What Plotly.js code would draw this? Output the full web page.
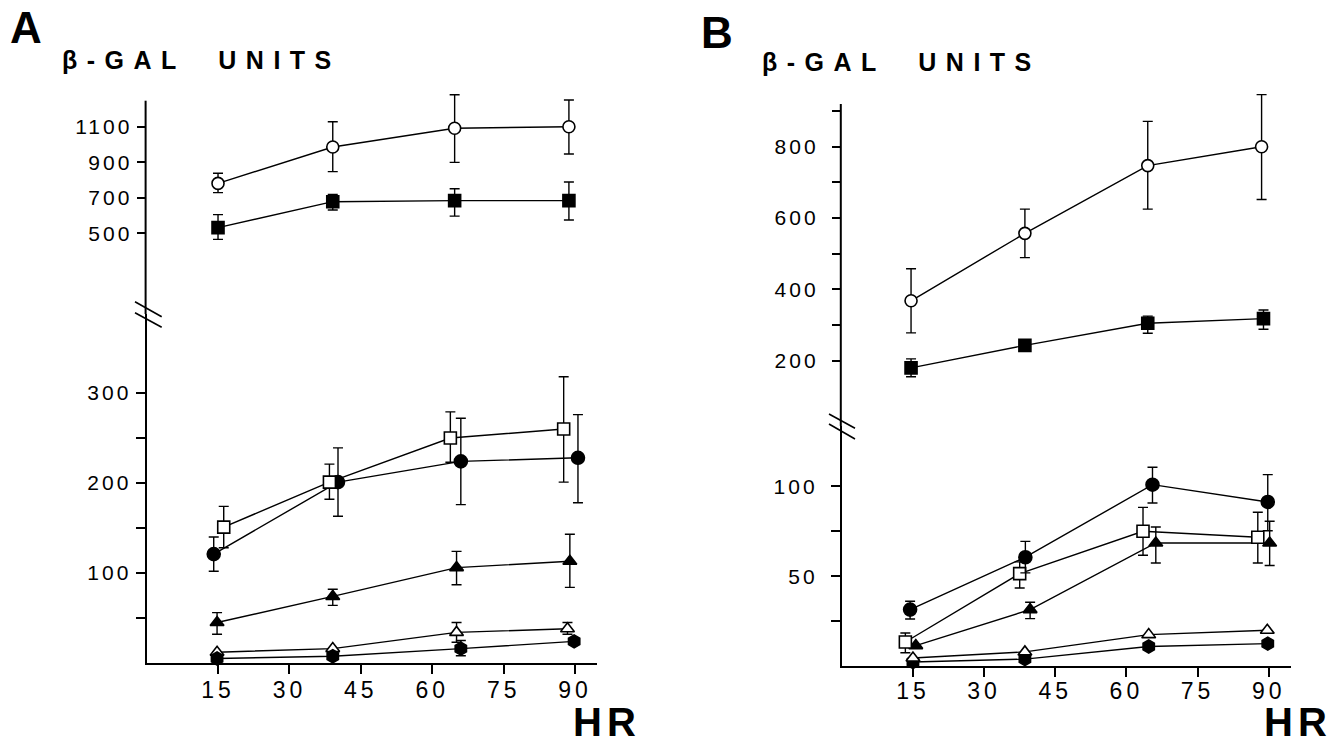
<!DOCTYPE html>
<html>
<head>
<meta charset="utf-8">
<script src="https://cdn.plot.ly/plotly-3.0.1.min.js"></script>
<style>
  html, body { margin: 0; padding: 0; background: #fff; }
  #chart { width: 1336px; height: 746px; }
  .annotation-text[data-unformatted*="UNITS"] { letter-spacing: 9.5px; }
  .annotation-text[data-unformatted*="HR"] { letter-spacing: 5px; }
  g.ytick text, g.y2tick text, g.y3tick text, g.y4tick text { letter-spacing: 3px; }
  g.xtick text, g.x2tick text { letter-spacing: 4px; }
</style>
</head>
<body>
<div id="chart"></div>
<script>
// ---------------- Panel A (hours, beta-gal units) ----------------
// upper part of broken axis
const aOpenCircleX = [15, 39.1, 64.7, 88.7];
const aOpenCircleY = [781, 986, 1091, 1100];
const aOpenCircleErrPlus = [57, 142, 189, 150];
const aOpenCircleErrMinus = [52, 139, 192, 154];

const aFilledSquareX = [15, 39.1, 64.7, 88.7];
const aFilledSquareY = [532, 678, 684, 684];
const aFilledSquareErrPlus = [73, 41, 67, 105];
const aFilledSquareErrMinus = [66, 47, 87, 109];

// lower part of broken axis
const aOpenSquareX = [16.2, 38.4, 63.8, 87.6];
const aOpenSquareY = [151, 201, 250, 260];
const aOpenSquareErrPlus = [23, 20, 29, 58];
const aOpenSquareErrMinus = [23, 19, 27, 59];

const aFilledCircleX = [14.1, 40.2, 66, 90.6];
const aFilledCircleY = [121, 201, 224, 228];
const aFilledCircleErrPlus = [19, 38, 48, 48];
const aFilledCircleErrMinus = [19, 38, 48, 50];

const aFilledTriX = [14.8, 39.1, 65.1, 88.9];
const aFilledTriY = [45, 74, 106, 113];
const aFilledTriErrPlus = [11, 8, 18, 30];
const aFilledTriErrMinus = [13, 10, 19, 29];

const aOpenTriX = [14.8, 39.1, 65.1, 88.4];
const aOpenTriY = [12, 16, 34, 38];
const aOpenTriErrPlus = [0, 0, 11, 7];
const aOpenTriErrMinus = [0, 0, 11, 6];

const aFilledHexX = [14.8, 39.1, 66, 89.8];
const aFilledHexY = [5, 7.5, 16, 24];
const aFilledHexErrPlus = [0, 0, 9, 0];
const aFilledHexErrMinus = [0, 0, 8, 0];

// ---------------- Panel B ----------------
const bOpenCircleX = [14.6, 38.6, 64.5, 88.5];
const bOpenCircleY = [368, 557, 747, 800];
const bOpenCircleErrPlus = [90, 68, 124, 146];
const bOpenCircleErrMinus = [90, 68, 122, 148];

const bFilledSquareX = [14.6, 38.6, 64.5, 88.9];
const bFilledSquareY = [180, 243, 305, 318];
const bFilledSquareErrPlus = [25, 0, 20, 24];
const bFilledSquareErrMinus = [25, 0, 28, 30];

const bFilledCircleX = [14.4, 38.7, 65.5, 89.8];
const bFilledCircleY = [31.5, 60.6, 100.9, 91.3];
const bFilledCircleErrPlus = [4.6, 8.8, 9.7, 15.2];
const bFilledCircleErrMinus = [5.2, 8.7, 10.2, 16];

const bOpenSquareX = [13.4, 37.5, 63.5, 87.7];
const bOpenSquareY = [13.5, 51.5, 75, 71.7];
const bOpenSquareErrPlus = [5, 6.5, 13.3, 13.9];
const bOpenSquareErrMinus = [6, 8, 13.3, 14.3];

const bFilledTriX = [15.6, 39.7, 66.2, 90.2];
const bFilledTriY = [11.5, 31.5, 68.5, 68.5];
const bFilledTriErrPlus = [0, 4.1, 8.9, 12.1];
const bFilledTriErrMinus = [0, 5, 11.1, 12.5];

const bOpenTriX = [15, 38.6, 64.7, 89.7];
const bOpenTriY = [4.6, 8, 17.6, 20];

const bFilledHexX = [15, 38.6, 64.7, 89.8];
const bFilledHexY = [2.4, 4, 11, 12.6];

// ---------------- tick labels ----------------
const xTickVals = [15, 30, 45, 60, 75, 90];
const xTickText = ['15', '30', '45', '60', '75', '90'];
const aUpperTickVals = [500, 700, 900, 1100];
const aUpperTickText = ['500', '700', '900', '1100'];
const aLowerTickVals = [50, 100, 150, 200, 250, 300];
const aLowerTickText = ['', '100', '', '200', '', '300'];
const bUpperTickVals = [200, 300, 400, 500, 600, 700, 800, 900];
const bUpperTickText = ['200', '', '400', '', '600', '', '800', ''];
const bLowerTickVals = [25, 50, 75, 100];
const bLowerTickText = ['', '50', '', '100'];

// ---------------- helpers ----------------
const W = 1336, H = 746;
const px = v => v / W;
const py = v => 1 - v / H;

function series(x, y, xa, ya, symbol, filled, size, errPlus, errMinus) {
  const t = {
    type: 'scatter', mode: 'lines+markers', x: x, y: y,
    xaxis: xa, yaxis: ya, showlegend: false, cliponaxis: false,
    line: { color: '#000', width: 1.4 },
    marker: { symbol: symbol, size: size, color: filled ? '#000' : '#fff',
              line: { color: '#000', width: 1.6 } }
  };
  if (errPlus) {
    t.error_y = { type: 'data', symmetric: false, array: errPlus, arrayminus: errMinus,
                  color: '#000', thickness: 1.4, width: 5 };
  }
  return t;
}

const data = [
  series(aOpenCircleX, aOpenCircleY, 'x', 'y2', 'circle', false, 12, aOpenCircleErrPlus, aOpenCircleErrMinus),
  series(aFilledSquareX, aFilledSquareY, 'x', 'y2', 'square', true, 12, aFilledSquareErrPlus, aFilledSquareErrMinus),
  series(aFilledTriX, aFilledTriY, 'x', 'y', 'triangle-up', true, 12, aFilledTriErrPlus, aFilledTriErrMinus),
  series(aOpenTriX, aOpenTriY, 'x', 'y', 'triangle-up', false, 12, aOpenTriErrPlus, aOpenTriErrMinus),
  series(aFilledHexX, aFilledHexY, 'x', 'y', 'hexagon', true, 13, aFilledHexErrPlus, aFilledHexErrMinus),
  series(aFilledCircleX, aFilledCircleY, 'x', 'y', 'circle', true, 13, aFilledCircleErrPlus, aFilledCircleErrMinus),
  series(aOpenSquareX, aOpenSquareY, 'x', 'y', 'square', false, 12, aOpenSquareErrPlus, aOpenSquareErrMinus),

  series(bOpenCircleX, bOpenCircleY, 'x2', 'y4', 'circle', false, 12, bOpenCircleErrPlus, bOpenCircleErrMinus),
  series(bFilledSquareX, bFilledSquareY, 'x2', 'y4', 'square', true, 12, bFilledSquareErrPlus, bFilledSquareErrMinus),
  series(bFilledHexX, bFilledHexY, 'x2', 'y3', 'hexagon', true, 13, null, null),
  series(bOpenTriX, bOpenTriY, 'x2', 'y3', 'triangle-up', false, 12, null, null),
  series(bFilledTriX, bFilledTriY, 'x2', 'y3', 'triangle-up', true, 12, bFilledTriErrPlus, bFilledTriErrMinus),
  series(bOpenSquareX, bOpenSquareY, 'x2', 'y3', 'square', false, 12, bOpenSquareErrPlus, bOpenSquareErrMinus),
  series(bFilledCircleX, bFilledCircleY, 'x2', 'y3', 'circle', true, 13, bFilledCircleErrPlus, bFilledCircleErrMinus)
];

const FONT = 'Liberation Sans, Arial, sans-serif';
const tickFont = { family: FONT, size: 21, color: '#000' };
const axisCommon = {
  showgrid: false, zeroline: false, showline: true, linecolor: '#000', linewidth: 2,
  ticks: 'outside', ticklen: 9, tickwidth: 2, tickcolor: '#000',
  tickfont: tickFont, fixedrange: true, tickmode: 'array'
};

// pixel geometry of the two panels
const aLeft = 146.6, aRight = 597, aBottom = 663, aBreak = 314, aTop = 100.7;
const bLeft = 841.8, bRight = 1291, bBottom = 666.3, bBreak = 426, bTop = 104;
const upperExtraTop = 88; // room above the axis line for long error bars

const axisLine = (x, y0, y1) => ({ type: 'line', xref: 'paper', yref: 'paper', layer: 'above',
  x0: px(x - 1), x1: px(x - 1), y0: py(y0), y1: py(y1), line: { color: '#000', width: 2 } });
const breakLine = (x0, y0, x1, y1) => ({ type: 'line', xref: 'paper', yref: 'paper', layer: 'above',
  x0: px(x0), y0: py(y0), x1: px(x1), y1: py(y1), line: { color: '#000', width: 1.6 } });

const layout = {
  width: W, height: H,
  margin: { l: 0, r: 0, t: 0, b: 0 },
  paper_bgcolor: '#fff', plot_bgcolor: 'rgba(0,0,0,0)',
  showlegend: false,
  xaxis: Object.assign({}, axisCommon, {
    domain: [px(aLeft), px(aRight)], range: [0, 94.6], anchor: 'y',
    tickvals: xTickVals, ticktext: xTickText, ticklabelstandoff: -4,
    tickfont: Object.assign({}, tickFont, { size: 23 })
  }),
  yaxis: Object.assign({}, axisCommon, {
    domain: [py(aBottom), py(aBreak)], range: [0, 387.8], anchor: 'x',
    tickvals: aLowerTickVals, ticktext: aLowerTickText
  }),
  yaxis2: Object.assign({}, axisCommon, {
    showline: false,
    domain: [py(aBreak), py(upperExtraTop)], range: [46, 1317.8], anchor: 'x',
    tickvals: aUpperTickVals, ticktext: aUpperTickText
  }),
  xaxis2: Object.assign({}, axisCommon, {
    domain: [px(bLeft), px(bRight)], range: [0, 94.7], anchor: 'y3',
    tickvals: xTickVals, ticktext: xTickText, ticklabelstandoff: -6,
    tickfont: Object.assign({}, tickFont, { size: 23 })
  }),
  yaxis3: Object.assign({}, axisCommon, {
    domain: [py(bBottom), py(bBreak)], range: [0, 133.5], anchor: 'x2',
    tickvals: bLowerTickVals, ticktext: bLowerTickText, ticklabelstandoff: 9
  }),
  yaxis4: Object.assign({}, axisCommon, {
    showline: false,
    domain: [py(bBreak), py(upperExtraTop)], range: [16.9, 964.6], anchor: 'x2',
    tickvals: bUpperTickVals, ticktext: bUpperTickText, ticklabelstandoff: 9
  }),
  shapes: [
    axisLine(aLeft, aBreak, aTop),
    axisLine(bLeft, bBreak, bTop),
    breakLine(135, 301.7, 161.7, 316.7),
    breakLine(135, 312.7, 161.7, 327.3),
    breakLine(829, 414, 855, 428.3),
    breakLine(829, 424, 855, 439)
  ],
  annotations: [
    { text: '<b>A</b>', xref: 'paper', yref: 'paper', x: px(8), y: py(1), xanchor: 'left', yanchor: 'top', showarrow: false,
      font: { family: FONT, size: 44, color: '#000' } },
    { text: '<b>B</b>', xref: 'paper', yref: 'paper', x: px(699), y: py(6), xanchor: 'left', yanchor: 'top', showarrow: false,
      font: { family: FONT, size: 44, color: '#000' } },
    { text: '<b>β-GAL  UNITS</b>', xref: 'paper', yref: 'paper', x: px(60), y: py(44), xanchor: 'left', yanchor: 'top', showarrow: false,
      font: { family: FONT, size: 25, color: '#000' } },
    { text: '<b>β-GAL  UNITS</b>', xref: 'paper', yref: 'paper', x: px(760), y: py(46), xanchor: 'left', yanchor: 'top', showarrow: false,
      font: { family: FONT, size: 25, color: '#000' } },
    { text: '<b>HR</b>', xref: 'paper', yref: 'paper', x: px(571), y: 0, xanchor: 'left', yanchor: 'bottom', showarrow: false,
      font: { family: FONT, size: 40, color: '#000' } },
    { text: '<b>HR</b>', xref: 'paper', yref: 'paper', x: px(1262), y: 0, xanchor: 'left', yanchor: 'bottom', showarrow: false,
      font: { family: FONT, size: 40, color: '#000' } }
  ]
};

Plotly.newPlot('chart', data, layout, { staticPlot: true, displayModeBar: false });
</script>
</body>
</html>
